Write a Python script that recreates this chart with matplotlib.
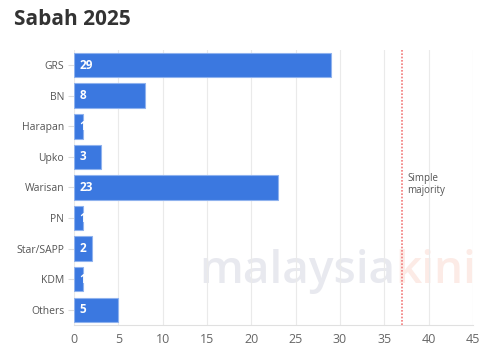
import matplotlib.pyplot as plt

parties = ["GRS", "BN", "Harapan", "Upko", "Warisan", "PN", "Star/SAPP", "KDM", "Others"]
seats = [29, 8, 1, 3, 23, 1, 2, 1, 5]
majority = 37
x_ticks = [0, 5, 10, 15, 20, 25, 30, 35, 40, 45]

plt.rcParams['font.family'] = ['Open Sans', 'DejaVu Sans']

fig = plt.figure(figsize=(5, 3.56), dpi=100)
ax = fig.add_axes([0.148, 0.087, 0.798, 0.773])

ypos = list(range(len(parties)))
ax.barh(ypos, seats, height=0.8, color="#3b78e0", edgecolor="#8fb2ee", linewidth=0.8, zorder=3)
for y, v in zip(ypos, seats):
    ax.text(0.6, y, str(v), color="white", fontsize=8.5, fontweight="bold",
            va="center", ha="left", zorder=4)

# watermark
ax.text(36.2, 6.75, "malaysia", fontsize=33, fontweight="semibold", color="#e8e9ef",
        ha="right", va="center", zorder=1)
ax.text(36.2, 6.75, "kini", fontsize=33, fontweight="semibold", color="#fcebe6",
        ha="left", va="center", zorder=1)

ax.axvline(majority, color="#f27a7a", linestyle=(0, (1, 1)), linewidth=1.2, zorder=2)
ax.text(majority + 0.6, 3.9, "Simple\nmajority", fontsize=7, color="#555555",
        va="center", ha="left", linespacing=1.1)

ax.set_xlim(0, 45)
ax.set_ylim(len(parties) - 0.5, -0.5)
ax.set_yticks(ypos)
ax.set_yticklabels(parties)
ax.set_xticks(x_ticks)
ax.grid(axis="x", color="#eaeaea", linewidth=0.8, zorder=0)
for s in ["top", "right", "left"]:
    ax.spines[s].set_visible(False)
ax.spines["bottom"].set_color("#e0e0e0")
ax.tick_params(axis="y", length=4, color="#dddddd", labelsize=7.5, labelcolor="#555555", pad=3)
ax.tick_params(axis="x", length=0, labelsize=9, labelcolor="#666666", pad=6)

fig.text(0.028, 0.945, "Sabah 2025", fontsize=15, fontweight="bold", color="#333333",
         ha="left", va="center")

fig.savefig("out.png", dpi=100)
